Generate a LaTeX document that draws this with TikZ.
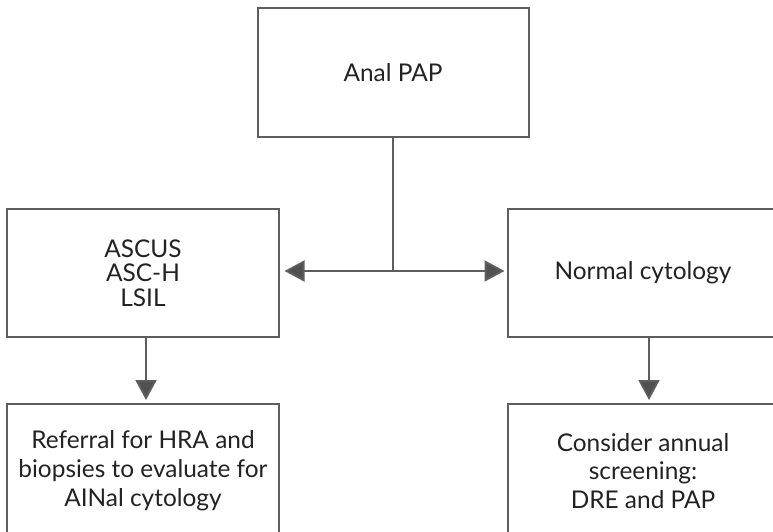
\documentclass[tikz,border=0pt]{standalone}
\usepackage{fontspec}
\setmainfont{Lato}
\usetikzlibrary{arrows.meta}
\definecolor{edge}{HTML}{5E5E5E}
\definecolor{tip}{HTML}{505050}
\definecolor{txt}{HTML}{222222}
\tikzset{
  box/.style={draw=edge, line width=2bp, minimum width=271bp, minimum height=128bp,
    align=center, text=txt, inner sep=0pt},
  conn/.style={draw=edge, line width=2bp},
  arr/.style={conn, -{Triangle[length=20bp, width=21bp, fill=tip]}},
  darr/.style={conn, {Triangle[length=20bp, width=21bp, fill=tip]}-{Triangle[length=20bp, width=21bp, fill=tip]}},
}
\begin{document}
\begin{tikzpicture}[x=1bp, y=-1bp]
\useasboundingbox (0,0) rectangle (773,532);
\clip (0,0) rectangle (773,532);
\node[box, minimum height=129.5bp, font=\fontsize{24.5}{24.5}\selectfont] (top) at (393,72.5) {Anal PAP};
\node[box, font=\fontsize{24.5}{24.5}\selectfont] (left) at (143,273) {ASCUS\\ASC-H\\LSIL};
\node[box, font=\fontsize{24.5}{24.5}\selectfont] (right) at (643,273) {Normal cytology};
\node[box, minimum height=134bp, font=\fontsize{24.5}{29}\selectfont] (bl) at (143,471) {Referral for HRA and\\biopsies to evaluate for\\AINal cytology};
\node[box, minimum height=134bp, font=\fontsize{24.5}{29}\selectfont] (br) at (643,471) {Consider annual\\screening:\\DRE and PAP};
\coordinate (j) at (393,271);
\draw[conn] (top.south) -- (j);
\draw[darr, shorten <=5bp, shorten >=2bp] (left.east |- j) -- (right.west |- j);
\draw[arr, shorten >=3bp] ([xshift=3bp]left.south) -- ([xshift=3bp]bl.north);
\draw[arr, shorten >=3bp] ([xshift=6bp]right.south) -- ([xshift=6bp]br.north);
\end{tikzpicture}
\end{document}
